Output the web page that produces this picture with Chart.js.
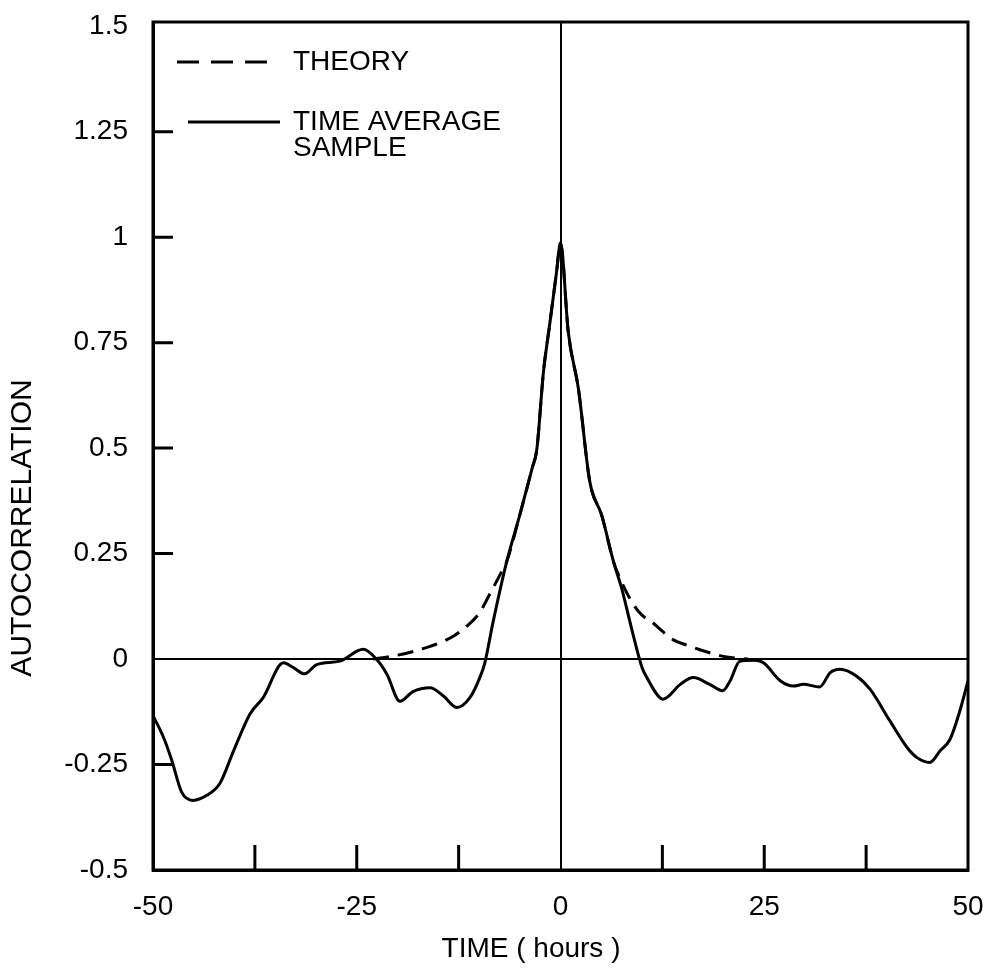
<!DOCTYPE html>
<html>
<head>
<meta charset="utf-8">
<script src="https://cdn.jsdelivr.net/npm/chart.js@4.4.0/dist/chart.umd.min.js"></script>
<style>
  html, body { margin: 0; padding: 0; background: #fff; }
  #wrap { width: 983px; height: 973px; }
</style>
</head>
<body>
<div id="wrap"><canvas id="myChart" width="983" height="973"></canvas></div>
<script>
// time average sample (hours, autocorrelation)
const sampleHours = [-50, -48.7, -47.7, -46.5, -45.1, -43.4, -41.8, -40.1, -38.1, -36.5, -34.0, -32.8, -31.4,
  -29.9, -27.1, -24.2, -22.6, -21.3, -19.7, -18.1, -16.0, -14.4, -12.7, -11.1, -9.9, -9.3, -8.25, -6.6,
  -5.0, -3.5, -2.9, -2.1, -1.3, -0.5, 0, 0.96, 2.2, 3.6, 5.05, 6.5, 7.5, 8.7, 10.0, 10.6, 12.6, 14.7,
  16.3, 18.3, 19.9, 20.8, 22.0, 23.7, 24.9, 27.0, 28.6, 29.8, 31.8, 33.1, 34.3, 36.3, 38.0, 40.4, 42.5,
  43.7, 45.3, 46.6, 47.8, 49.0, 50];
const sampleValues = [-0.134, -0.186, -0.24, -0.315, -0.335, -0.323, -0.295, -0.217, -0.13, -0.092, -0.009, -0.02, -0.035,
  -0.013, -0.005, 0.023, 0, -0.036, -0.1, -0.077, -0.068, -0.087, -0.115, -0.091, -0.044, -0.01, 0.09, 0.231,
  0.341, 0.451, 0.498, 0.679, 0.797, 0.915, 0.986, 0.774, 0.64, 0.42, 0.341, 0.231, 0.168, 0.074, -0.02, -0.044, -0.095, -0.06,
  -0.044, -0.06, -0.075, -0.052, -0.005, -0.003, -0.009, -0.052, -0.064, -0.06, -0.066, -0.032, -0.024, -0.04, -0.072, -0.146, -0.209,
  -0.233, -0.245, -0.217, -0.19, -0.123, -0.052];

// theory curve (dashed)
const theoryHours = [-23, -21, -19, -17, -15, -13, -11.5, -10, -8.65, -7.2, -6.6, -5.0, -3.5, -2.9, -2.1, -1.3, -0.5, 0,
  0.96, 2.2, 3.6, 5.05, 6.5, 7.1, 8.7, 10.0, 11.2, 12.5, 13.8, 15.5, 17.1, 18.8, 20.4, 23];
const theoryValues = [0, 0.006, 0.013, 0.024, 0.037, 0.056, 0.078, 0.108, 0.155, 0.208, 0.231, 0.341, 0.451, 0.498, 0.679, 0.797, 0.915, 0.986,
  0.774, 0.64, 0.42, 0.341, 0.231, 0.2, 0.137, 0.104, 0.088, 0.066, 0.046, 0.033, 0.022, 0.012, 0.005, 0];

const yTickValues = [-0.5, -0.25, 0, 0.25, 0.5, 0.75, 1, 1.25, 1.5];
const yTickLabels = ["-0.5", "-0.25", "0", "0.25", "0.5", "0.75", "1", "1.25", "1.5"];
const innerYTicks = [-0.25, 0.25, 0.5, 0.75, 1, 1.25];
const innerXTicks = [-37.5, -25, -12.5, 12.5, 25, 37.5];

const FONT = '"Liberation Sans", Arial, sans-serif';

function toPoints(xs, ys) {
  return xs.map((x, i) => ({ x: x, y: ys[i] }));
}

// frame, inside tick marks, legend and axis titles
const paperPlugin = {
  id: "paper",
  afterDraw(chart) {
    const ctx = chart.ctx;
    const a = chart.chartArea;
    const xs = chart.scales.x;
    const ys = chart.scales.y;
    ctx.save();
    ctx.strokeStyle = "#000";
    ctx.lineWidth = 3;
    ctx.strokeRect(a.left, a.top, a.right - a.left, a.bottom - a.top);

    ctx.beginPath();
    for (let v of innerYTicks) {
      const py = ys.getPixelForValue(v);
      ctx.moveTo(a.left, py);
      ctx.lineTo(a.left + 20, py);
    }
    for (let v of innerXTicks) {
      const px = xs.getPixelForValue(v);
      ctx.moveTo(px, a.bottom);
      ctx.lineTo(px, a.bottom - 25);
    }
    ctx.stroke();

    // legend
    ctx.lineWidth = 3;
    ctx.setLineDash([22, 12]);
    ctx.beginPath();
    ctx.moveTo(177, 62);
    ctx.lineTo(267, 62);
    ctx.stroke();
    ctx.setLineDash([]);
    ctx.beginPath();
    ctx.moveTo(188, 122);
    ctx.lineTo(280, 122);
    ctx.stroke();

    ctx.fillStyle = "#000";
    ctx.font = "28px " + FONT;
    ctx.textAlign = "left";
    ctx.textBaseline = "middle";
    ctx.fillText("THEORY", 293, 62);
    ctx.fillText("TIME AVERAGE", 293, 122);
    ctx.fillText("SAMPLE", 293, 148);

    // axis titles
    ctx.textAlign = "center";
    ctx.fillText("TIME ( hours )", 531, 949);
    ctx.translate(23, 528);
    ctx.rotate(-Math.PI / 2);
    ctx.font = "30px " + FONT;
    ctx.fillText("AUTOCORRELATION", 0, 0);
    ctx.restore();
  }
};

const zeroOnly = (c) => (c.tick && c.tick.value === 0 ? "#000" : "rgba(0,0,0,0)");

new Chart(document.getElementById("myChart").getContext("2d"), {
  type: "line",
  data: {
    datasets: [
      {
        label: "TIME AVERAGE SAMPLE",
        data: toPoints(sampleHours, sampleValues),
        borderColor: "#000",
        borderWidth: 3,
        pointRadius: 0,
        fill: false,
        cubicInterpolationMode: "monotone",
      },
      {
        label: "THEORY",
        data: toPoints(theoryHours, theoryValues),
        borderColor: "#000",
        borderWidth: 3,
        borderDash: [16, 9],
        pointRadius: 0,
        fill: false,
        cubicInterpolationMode: "monotone",
      },
    ],
  },
  options: {
    responsive: false,
    animation: false,
    devicePixelRatio: 1,
    layout: { padding: { top: 22, right: 15, left: 0, bottom: 0 } },
    plugins: { legend: { display: false }, tooltip: { enabled: false } },
    scales: {
      x: {
        type: "linear",
        min: -50,
        max: 50,
        afterFit: (scale) => {
          scale.height = 103;
          scale.paddingLeft = 0;
          scale.paddingRight = 0;
        },
        ticks: { stepSize: 25, color: "#000", padding: 20, font: { family: FONT, size: 28 }, maxRotation: 0 },
        grid: { drawTicks: false, color: zeroOnly, lineWidth: 2 },
        border: { display: true, color: "#000", width: 3 },
      },
      y: {
        type: "linear",
        min: -0.5,
        max: 1.51,
        afterFit: (scale) => {
          scale.width = 153;
          scale.paddingTop = 0;
          scale.paddingBottom = 0;
        },
        afterBuildTicks: (scale) => { scale.ticks = yTickValues.map((v) => ({ value: v })); },
        ticks: {
          color: "#000",
          padding: 25,
          font: { family: FONT, size: 28 },
          callback: (v) => yTickLabels[yTickValues.indexOf(v)],
        },
        grid: { drawTicks: false, color: zeroOnly, lineWidth: 2 },
        border: { display: true, color: "#000", width: 3 },
      },
    },
  },
  plugins: [paperPlugin],
});
</script>
</body>
</html>
